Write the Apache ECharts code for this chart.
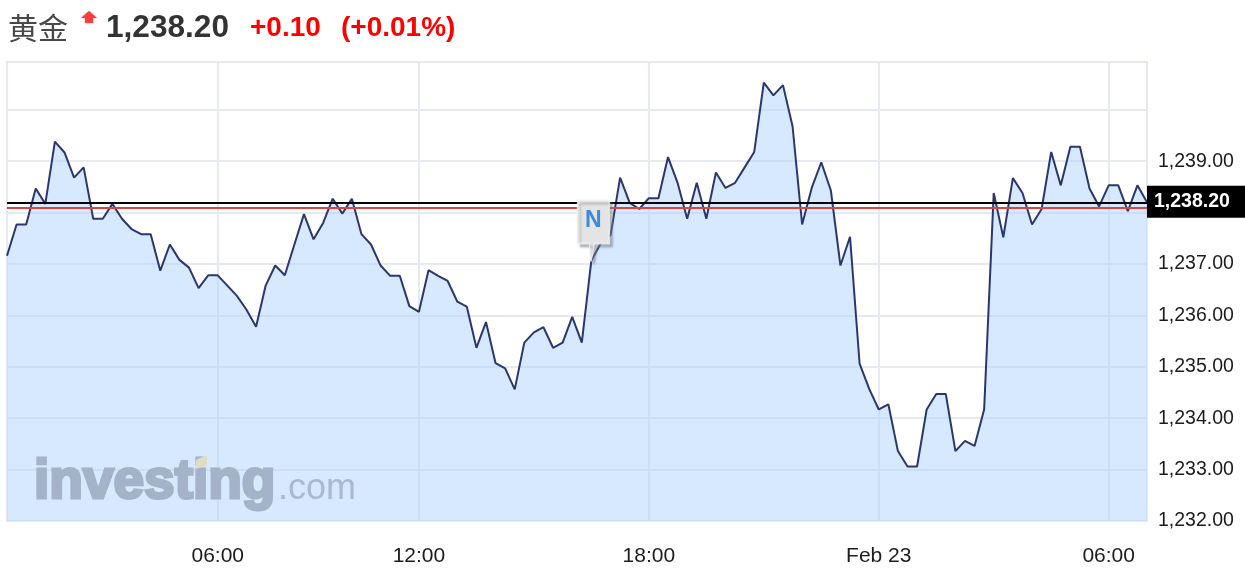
<!DOCTYPE html>
<html>
<head>
<meta charset="utf-8">
<style>html,body{margin:0;padding:0;background:#fff}#c{width:1245px;height:575px}</style>
<script src="https://cdn.jsdelivr.net/npm/echarts@6/dist/echarts.min.js"></script>
</head>
<body>
<div id="c"></div>
<script>
const prices = [
1237.16,1237.77,1237.77,1238.47,1238.17,1239.38,1239.17,1238.68,1238.88,1237.88,
1237.88,1238.17,1237.88,1237.68,1237.58,1237.58,1236.87,1237.38,1237.08,1236.93,
1236.53,1236.78,1236.78,1236.58,1236.38,1236.11,1235.78,1236.58,1236.97,1236.78,
1237.38,1237.97,1237.48,1237.80,1238.27,1237.98,1238.27,1237.58,1237.38,1236.97,
1236.77,1236.77,1236.18,1236.07,1236.88,1236.77,1236.67,1236.27,1236.17,1235.37,
1235.87,1235.07,1234.97,1234.56,1235.47,1235.67,1235.77,1235.37,1235.47,1235.97,
1235.47,1237.07,1237.41,1237.56,1238.68,1238.19,1238.07,1238.28,1238.28,1239.08,
1238.58,1237.88,1238.58,1237.88,1238.78,1238.48,1238.58,1238.88,1239.18,1240.53,
1240.28,1240.48,1239.68,1237.77,1238.48,1238.98,1238.43,1236.97,1237.53,1235.06,
1234.57,1234.17,1234.27,1233.36,1233.06,1233.06,1234.17,1234.47,1234.47,1233.36,
1233.56,1233.46,1234.17,1238.38,1237.52,1238.67,1238.38,1237.77,1238.07,1239.18,
1238.53,1239.28,1239.28,1238.47,1238.12,1238.53,1238.53,1238.03,1238.53,1238.20];
const tickIndexes = [22,43,67,91,115];
const tickLabels = ['06:00','12:00','18:00','Feb 23','06:00'];
const lastPrice = 1238.20;
const prevClose = 1238.10;
const newsIndex = 61;
const yMin = 1232, yMax = 1240.93, yLastLabel = 1239, yCoveredLabel = 1238;
const categories = prices.map((_, i) => String(i));
const gridColor = '#e6e9f0';

const fmt = v => v.toLocaleString('en-US',{minimumFractionDigits:2,maximumFractionDigits:2});
const chart = echarts.init(document.getElementById('c'), null, {renderer:'canvas'});
const FONT = '"Liberation Sans",Arial,sans-serif';

chart.setOption({
  animation:false,
  grid:{left:7,right:98,top:62,bottom:54,show:true,borderColor:gridColor,borderWidth:2,backgroundColor:'#fff'},
  xAxis:{type:'category',data:categories,boundaryGap:false,
    axisLine:{show:false},axisTick:{show:false},
    axisLabel:{interval:i=>tickIndexes.includes(i),
      formatter:(v,i)=>{const k=tickIndexes.indexOf(Number(v));return k>=0?tickLabels[k]:''},
      color:'#1c1c1c',fontFamily:FONT,fontSize:21,margin:25,hideOverlap:false},
    splitLine:{show:true,interval:i=>tickIndexes.includes(i),lineStyle:{color:gridColor,width:2}}},
  yAxis:{type:'value',position:'right',min:yMin,max:yMax,interval:1,
    axisLine:{show:false},axisTick:{show:false},
    splitLine:{show:true,lineStyle:{color:gridColor,width:2}},
    axisLabel:{showMaxLabel:false,formatter:v=>(v>yLastLabel||v===yCoveredLabel)?'':fmt(v),
      color:'#1c1c1c',fontFamily:FONT,fontSize:19.5,margin:11,padding:[0,0,7,0]}},
  series:[
    {type:'line',data:[],z:1,silent:true,
     markLine:{silent:true,symbol:'none',label:{show:false},animation:false,
       data:[{yAxis:lastPrice,lineStyle:{color:'#000',width:2,type:'solid'}},
             {yAxis:prevClose,lineStyle:{color:'#d9443f',width:2,type:'solid'}}]}},
    {type:'line',data:prices,z:2,symbol:'none',smooth:false,
     lineStyle:{color:'#2b366f',width:2},
     areaStyle:{color:'#aed4ff',opacity:0.5},
     markPoint:{silent:true,animation:false,z:6,
       data:[{coord:[newsIndex,prices[newsIndex]],
         symbol:'path://M0 0H32V43H17L14 60H13L12 43H0Z',symbolSize:[32,60],symbolOffset:[2,-30],
         itemStyle:{color:'#e4e4e4',borderColor:'rgba(240,240,240,0.8)',borderWidth:1.5,
           shadowColor:'rgba(120,130,140,0.55)',shadowOffsetX:3,shadowOffsetY:3,shadowBlur:2},
         label:{show:true,position:'insideTop',distance:10,formatter:'N',color:'#3a8bd8',
           fontFamily:FONT,fontWeight:'bold',fontSize:23}}]}}
  ]
});

const tagY = chart.convertToPixel({yAxisIndex:0},lastPrice);
chart.setOption({graphic:[
  {type:'text',z:10,silent:true,style:{text:'黄金',x:8,y:28,font:'30px "Noto Sans CJK SC"',fill:'#484848',textVerticalAlign:'middle'}},
  {type:'polygon',z:10,silent:true,shape:{points:[[89,11],[97,18],[93,18],[93,23],[85,23],[85,18],[81,18]]},style:{fill:'#f5403f',shadowBlur:2,shadowColor:'rgba(245,64,63,.6)'}},
  {type:'text',z:10,silent:true,style:{text:'1,238.20',x:106,y:28,font:'bold 31.6px '+FONT,fill:'#333',textVerticalAlign:'middle'}},
  {type:'text',z:10,silent:true,style:{text:'+0.10',x:250,y:28,font:'bold 28px '+FONT,fill:'#ff0000',textVerticalAlign:'middle'}},
  {type:'text',z:10,silent:true,style:{text:'(+0.01%)',x:341,y:28,font:'bold 28px '+FONT,fill:'#ff0000',textVerticalAlign:'middle'}},
  {type:'text',z:7,silent:true,style:{text:'investing',x:34,y:510,font:'bold 55px '+FONT,fill:'#a4b3c7',stroke:'#a4b3c7',lineWidth:3,textVerticalAlign:'bottom'}},
  {type:'text',z:7,silent:true,style:{text:'.com',x:278,y:507,font:'36px '+FONT,fill:'#a9bacf',textVerticalAlign:'bottom'}},
  {type:'polygon',z:8,silent:true,shape:{points:[[196,460],[207,455],[207,465],[196,469]]},style:{fill:'#e0dcc6'}},
  {type:'rect',z:10,silent:true,shape:{x:1147,y:tagY-16.5,width:98,height:32},style:{fill:'#000'}},
  {type:'text',z:11,silent:true,style:{text:fmt(lastPrice),x:1154,y:tagY-0.5,font:'bold 19.5px '+FONT,fill:'#fff',textVerticalAlign:'middle'}}
]});
</script>
</body>
</html>
